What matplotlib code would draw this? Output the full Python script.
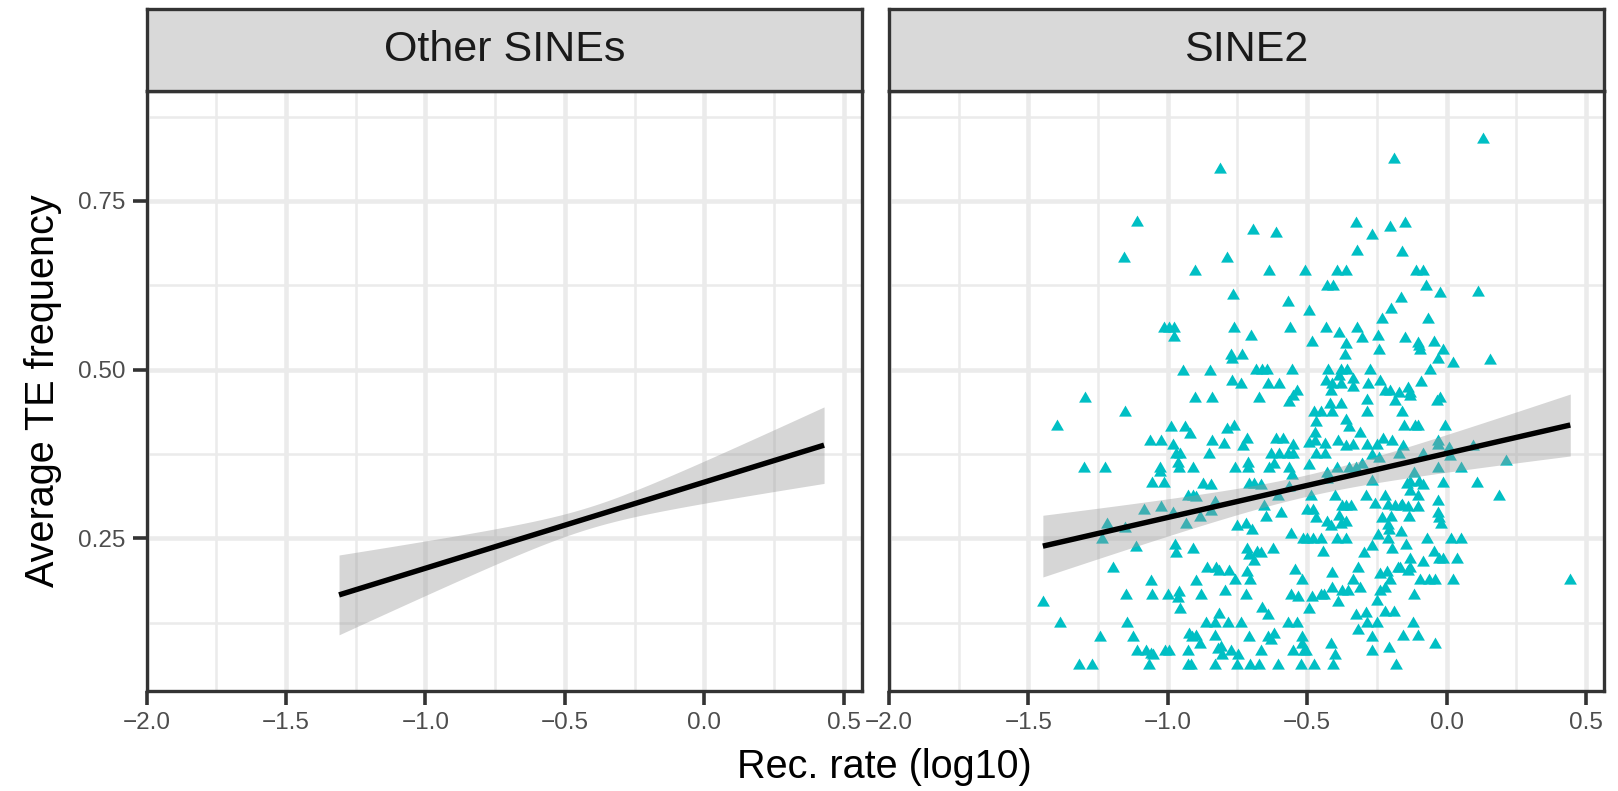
import matplotlib
matplotlib.use("Agg")
import numpy as np
import matplotlib.pyplot as plt
from matplotlib.ticker import FuncFormatter, MultipleLocator

plt.rcParams["font.family"] = ["Liberation Sans", "DejaVu Sans"]

# ---- data -----------------------------------------------------------------
facets = ["Other SINEs", "SINE2"]

# SINE2 points (rec. rate log10, average TE frequency)
sine2_points = [
    (-1.112, 0.720), (-1.157, 0.667), (-0.901, 0.647),
    (-0.812, 0.799), (-0.187, 0.814), (-0.695, 0.709), (-0.610, 0.704), (-0.323, 0.719),
    (-0.201, 0.713), (-0.148, 0.719), (-0.267, 0.701), (-0.787, 0.667), (-0.320, 0.678),
    (-0.160, 0.676), (-0.636, 0.647), (-0.507, 0.647), (-0.392, 0.647), (-0.360, 0.647),
    (-0.427, 0.626), (-0.407, 0.626), (-0.767, 0.612), (-0.567, 0.602), (-0.165, 0.608),
    (-0.199, 0.591), (-0.495, 0.588),
    (0.132, 0.844), (-0.110, 0.647), (-0.086, 0.647), (-0.073, 0.626), (-0.023, 0.615),
    (0.112, 0.616),
    (-1.013, 0.563), (-0.995, 0.563), (-0.979, 0.563), (-0.979, 0.550), (-0.945, 0.500),
    (-0.850, 0.500), (-1.296, 0.459), (-1.154, 0.438), (-1.398, 0.418), (-0.904, 0.459),
    (-0.842, 0.459), (-0.989, 0.417), (-0.939, 0.417), (-0.921, 0.406), (-1.064, 0.396),
    (-1.023, 0.396), (-0.981, 0.390), (-0.840, 0.396), (-0.969, 0.376), (-0.957, 0.376),
    (-0.853, 0.376), (-0.962, 0.363), (-1.299, 0.355), (-1.225, 0.355), (-1.029, 0.356),
    (-1.029, 0.350), (-0.960, 0.355), (-0.910, 0.355), (-1.055, 0.334), (-1.014, 0.334),
    (-0.874, 0.332), (-0.846, 0.330),
    (-0.233, 0.576), (-0.761, 0.563), (-0.562, 0.563), (-0.701, 0.551), (-0.431, 0.563),
    (-0.386, 0.556), (-0.320, 0.563), (-0.302, 0.548), (-0.246, 0.551), (-0.148, 0.548),
    (-0.483, 0.542), (-0.360, 0.539), (-0.243, 0.531), (-0.773, 0.523), (-0.769, 0.517),
    (-0.735, 0.523), (-0.365, 0.523), (-0.683, 0.501), (-0.663, 0.501), (-0.645, 0.501),
    (-0.556, 0.501), (-0.425, 0.501), (-0.377, 0.501), (-0.356, 0.501), (-0.386, 0.492),
    (-0.276, 0.501), (-0.769, 0.485), (-0.737, 0.480), (-0.641, 0.480), (-0.600, 0.480),
    (-0.431, 0.485), (-0.410, 0.480), (-0.378, 0.480), (-0.335, 0.488), (-0.335, 0.476),
    (-0.282, 0.480), (-0.240, 0.485), (-0.414, 0.470), (-0.538, 0.470), (-0.552, 0.462),
    (-0.564, 0.454), (-0.671, 0.459), (-0.222, 0.470), (-0.201, 0.470), (-0.169, 0.467),
    (-0.183, 0.455), (-0.285, 0.456), (-0.418, 0.451), (-0.380, 0.451), (-0.474, 0.439),
    (-0.450, 0.439), (-0.412, 0.439), (-0.285, 0.439), (-0.160, 0.439), (-0.469, 0.424),
    (-0.362, 0.427), (-0.348, 0.416), (-0.788, 0.414), (-0.761, 0.418), (-0.154, 0.418),
    (-0.471, 0.408), (-0.311, 0.408), (-0.800, 0.391), (-0.717, 0.398), (-0.729, 0.388),
    (-0.610, 0.398), (-0.588, 0.398), (-0.552, 0.390), (-0.493, 0.393), (-0.471, 0.396),
    (-0.436, 0.391), (-0.388, 0.396), (-0.362, 0.388), (-0.336, 0.389), (-0.285, 0.390),
    (-0.249, 0.390), (-0.228, 0.399), (-0.196, 0.396), (-0.156, 0.388), (-0.630, 0.376),
    (-0.600, 0.376), (-0.568, 0.376), (-0.552, 0.376), (-0.467, 0.376), (-0.436, 0.376),
    (-0.269, 0.375), (-0.243, 0.371), (-0.171, 0.376), (-0.757, 0.356), (-0.713, 0.363),
    (-0.713, 0.356), (-0.636, 0.356), (-0.618, 0.362), (-0.564, 0.356), (-0.555, 0.345),
    (-0.495, 0.360), (-0.430, 0.348), (-0.392, 0.356), (-0.350, 0.356), (-0.326, 0.356),
    (-0.302, 0.361), (-0.267, 0.336), (-0.428, 0.339), (-0.707, 0.332), (-0.689, 0.332),
    (-0.665, 0.330), (-0.564, 0.327), (-0.142, 0.332),
    (-0.067, 0.576), (-0.102, 0.541), (-0.098, 0.536), (-0.094, 0.531), (-0.046, 0.542),
    (-0.014, 0.531), (-0.029, 0.517), (0.025, 0.512), (0.156, 0.516), (-0.061, 0.501),
    (-0.093, 0.483), (-0.138, 0.474), (-0.130, 0.467), (-0.130, 0.462), (-0.035, 0.455),
    (-0.023, 0.460), (-0.112, 0.418), (-0.102, 0.418), (-0.005, 0.418), (-0.031, 0.396),
    (-0.031, 0.390), (0.010, 0.386), (0.096, 0.388), (-0.086, 0.376), (0.013, 0.374),
    (0.212, 0.366), (-0.029, 0.356), (0.052, 0.356), (-0.118, 0.348), (-0.130, 0.335),
    (-0.098, 0.335), (-0.086, 0.330), (-0.011, 0.334), (0.108, 0.334),
    (-0.132, 0.321), (-0.102, 0.314), (-0.032, 0.307), (0.189, 0.314), (-0.162, 0.300),
    (-0.138, 0.298), (-0.104, 0.298), (-0.031, 0.289), (-0.026, 0.282), (-0.020, 0.272),
    (-0.136, 0.283), (-0.162, 0.260), (-0.070, 0.251), (0.015, 0.251), (0.051, 0.251),
    (-0.145, 0.241), (-0.046, 0.231), (-0.026, 0.220), (-0.013, 0.220), (0.039, 0.220),
    (-0.130, 0.220), (-0.086, 0.216), (-0.168, 0.208), (-0.132, 0.208), (-0.138, 0.203),
    (-0.096, 0.189), (-0.062, 0.189), (-0.043, 0.189), (0.023, 0.189), (0.444, 0.189),
    (-0.118, 0.168), (-0.120, 0.126), (-0.155, 0.106), (-0.102, 0.106), (-0.040, 0.095),
    (-0.928, 0.314), (-0.910, 0.314), (-0.898, 0.312), (-0.832, 0.305), (-1.086, 0.293),
    (-1.025, 0.298), (-0.981, 0.289), (-0.886, 0.283), (-0.844, 0.292), (-1.217, 0.272),
    (-1.154, 0.267), (-0.933, 0.272), (-1.235, 0.250), (-1.114, 0.238), (-0.975, 0.241),
    (-0.969, 0.230), (-0.910, 0.235), (-1.195, 0.208), (-0.858, 0.208), (-0.826, 0.208),
    (-1.061, 0.188), (-0.898, 0.188), (-1.150, 0.167), (-1.055, 0.167), (-0.999, 0.167),
    (-0.960, 0.172), (-0.965, 0.163), (-0.882, 0.167), (-0.955, 0.146), (-1.448, 0.157),
    (-1.386, 0.126), (-1.145, 0.126), (-0.864, 0.126), (-0.832, 0.126), (-0.817, 0.139),
    (-1.243, 0.105), (-1.126, 0.105), (-0.924, 0.109), (-0.912, 0.105), (-0.898, 0.106),
    (-0.886, 0.094), (-0.829, 0.106), (-1.112, 0.084), (-1.079, 0.084), (-1.061, 0.080),
    (-1.052, 0.078), (-1.011, 0.084), (-0.995, 0.084), (-0.928, 0.084), (-0.818, 0.087),
    (-1.318, 0.063), (-1.273, 0.063), (-1.067, 0.063), (-0.928, 0.063), (-0.915, 0.063),
    (-0.832, 0.063),
    (-0.487, 0.314), (-0.400, 0.314), (-0.290, 0.314), (-0.219, 0.314), (-0.654, 0.299),
    (-0.606, 0.314), (-0.499, 0.293), (-0.479, 0.293), (-0.469, 0.282), (-0.374, 0.300),
    (-0.360, 0.300), (-0.344, 0.299), (-0.257, 0.302), (-0.210, 0.301), (-0.183, 0.299),
    (-0.160, 0.301), (-0.648, 0.283), (-0.592, 0.289), (-0.753, 0.269), (-0.721, 0.272),
    (-0.698, 0.263), (-0.428, 0.275), (-0.416, 0.269), (-0.386, 0.284), (-0.380, 0.273),
    (-0.360, 0.276), (-0.231, 0.282), (-0.198, 0.283), (-0.210, 0.271), (-0.207, 0.264),
    (-0.558, 0.258), (-0.514, 0.251), (-0.499, 0.251), (-0.479, 0.251), (-0.451, 0.251),
    (-0.392, 0.251), (-0.362, 0.251), (-0.245, 0.257), (-0.210, 0.251), (-0.717, 0.235),
    (-0.681, 0.231), (-0.665, 0.230), (-0.710, 0.226), (-0.689, 0.218), (-0.624, 0.235),
    (-0.442, 0.231), (-0.296, 0.230), (-0.267, 0.240), (-0.196, 0.235), (-0.817, 0.203),
    (-0.781, 0.203), (-0.717, 0.201), (-0.543, 0.204), (-0.412, 0.200), (-0.317, 0.207),
    (-0.237, 0.198), (-0.213, 0.201), (-0.174, 0.208), (-0.757, 0.189), (-0.705, 0.189),
    (-0.519, 0.189), (-0.336, 0.189), (-0.201, 0.189), (-0.796, 0.173), (-0.721, 0.168),
    (-0.558, 0.167), (-0.531, 0.164), (-0.483, 0.164), (-0.451, 0.167), (-0.439, 0.167),
    (-0.410, 0.178), (-0.374, 0.173), (-0.352, 0.173), (-0.312, 0.178), (-0.237, 0.173),
    (-0.221, 0.178), (-0.249, 0.158), (-0.388, 0.157), (-0.495, 0.146), (-0.662, 0.148),
    (-0.642, 0.138), (-0.324, 0.138), (-0.288, 0.141), (-0.221, 0.142), (-0.189, 0.142),
    (-0.784, 0.126), (-0.737, 0.126), (-0.567, 0.126), (-0.538, 0.126), (-0.285, 0.126),
    (-0.249, 0.126), (-0.317, 0.115), (-0.707, 0.105), (-0.642, 0.105), (-0.630, 0.101),
    (-0.618, 0.110), (-0.517, 0.105), (-0.269, 0.105), (-0.808, 0.090), (-0.805, 0.079),
    (-0.773, 0.084), (-0.749, 0.079), (-0.665, 0.084), (-0.550, 0.084), (-0.519, 0.094),
    (-0.511, 0.084), (-0.505, 0.084), (-0.416, 0.095), (-0.400, 0.079), (-0.269, 0.084),
    (-0.205, 0.089), (-0.753, 0.063), (-0.705, 0.063), (-0.674, 0.063), (-0.606, 0.063),
    (-0.523, 0.063), (-0.475, 0.063), (-0.407, 0.063), (-0.181, 0.063),
]

# Other SINEs: only the lm fit + 95% band is visible
other_x_range = [-1.31, 0.43]
other_fit_ends = [0.166, 0.388]
other_band_center = -0.42     # x where the band is narrowest
other_band_min = 0.016        # half-width at that x
other_band_spread = 0.064     # growth of half-width per unit of x

x_ticks = [-2.0, -1.5, -1.0, -0.5, 0.0, 0.5]
y_ticks = [0.25, 0.50, 0.75]
XLIM = (-2.0, 0.565)
YLIM = (0.024, 0.913)
T95 = 1.965

# ---- style ----------------------------------------------------------------
PT_COLOR = "#00BFC4"
BORDER = "#333333"
GRID = "#EBEBEB"
STRIP = "#D9D9D9"
TRI = [(-1.0, -0.8), (1.0, -0.8), (0.0, 0.93)]

W, H = 1618, 791
fig = plt.figure(figsize=(W / 100, H / 100), dpi=100)
fig.patch.set_facecolor("white")

pan_bottom = (H - 690.7) / H
pan_h = (690.7 - 91) / H
pan_w = 715 / W
lefts = [146.7 / W, 889 / W]
strip_h = 82.5 / H

minus = lambda s: s.replace("-", "\u2212")
fmt_x = FuncFormatter(lambda v, p: minus(f"{v:.1f}"))
fmt_y = FuncFormatter(lambda v, p: f"{v:.2f}")

axes = []
for i, name in enumerate(facets):
    ax = fig.add_axes([lefts[i], pan_bottom, pan_w, pan_h])
    ax.set_xlim(*XLIM)
    ax.set_ylim(*YLIM)
    ax.set_axisbelow(True)
    ax.set_xticks(x_ticks)
    ax.xaxis.set_minor_locator(MultipleLocator(0.25))
    ax.yaxis.set_minor_locator(MultipleLocator(0.125))
    ax.set_yticks(y_ticks)
    ax.xaxis.set_major_formatter(fmt_x)
    ax.yaxis.set_major_formatter(fmt_y)
    ax.grid(which="major", color=GRID, lw=3.3)
    ax.grid(which="minor", color=GRID, lw=1.8)
    ax.tick_params(which="minor", length=0)
    ax.tick_params(which="major", direction="out", length=10, width=2.6,
                   color=BORDER, labelsize=17.5, labelcolor="#4D4D4D", pad=5)
    if i > 0:
        ax.tick_params(axis="y", which="both", length=0, labelleft=False)
    for sp in ax.spines.values():
        sp.set_color(BORDER)
        sp.set_linewidth(2.4)
        sp.set_zorder(6)

    # strip
    sax = fig.add_axes([lefts[i], pan_bottom + pan_h, pan_w, strip_h])
    sax.set_facecolor(STRIP)
    sax.set_xticks([])
    sax.set_yticks([])
    for sp in sax.spines.values():
        sp.set_color(BORDER)
        sp.set_linewidth(2.4)
    sax.text(0.5, 0.5, name, ha="center", va="center", fontsize=31,
             color="#1A1A1A", transform=sax.transAxes)
    axes.append(ax)

# ---- Other SINEs panel: fit line and band ---------------------------------
ax = axes[0]
xo = np.linspace(other_x_range[0], other_x_range[1], 100)
slope_o = (other_fit_ends[1] - other_fit_ends[0]) / (other_x_range[1] - other_x_range[0])
yo = other_fit_ends[0] + slope_o * (xo - other_x_range[0])
hw = np.sqrt(other_band_min ** 2 + (other_band_spread * (xo - other_band_center)) ** 2)
ax.fill_between(xo, yo - hw, yo + hw, color="#999999", alpha=0.4, lw=0, zorder=3)
ax.plot(xo, yo, color="black", lw=3.9, zorder=4, solid_capstyle="butt")

# ---- SINE2 panel: points + lm fit -----------------------------------------
ax = axes[1]
px = np.array([p[0] for p in sine2_points])
py = np.array([p[1] for p in sine2_points])
ax.scatter(px, py, marker=TRI, s=85, color=PT_COLOR, linewidths=0, zorder=2)

n = len(px)
b1, b0 = np.polyfit(px, py, 1)
resid = py - (b0 + b1 * px)
s = np.sqrt(np.sum(resid ** 2) / (n - 2))
xbar = px.mean()
sxx = np.sum((px - xbar) ** 2)
xs = np.linspace(px.min(), px.max(), 100)
ys = b0 + b1 * xs
se = s * np.sqrt(1.0 / n + (xs - xbar) ** 2 / sxx)
ax.fill_between(xs, ys - T95 * se, ys + T95 * se, color="#999999", alpha=0.4,
                lw=0, zorder=3)
ax.plot(xs, ys, color="black", lw=3.9, zorder=4, solid_capstyle="butt")

# ---- axis titles ----------------------------------------------------------
fig.text(43 / W, pan_bottom + pan_h / 2, "Average TE frequency", rotation=90,
         ha="center", va="center", fontsize=28.5, color="black")
fig.text(884 / W, (H - 767) / H, "Rec. rate (log10)",
         ha="center", va="center", fontsize=28.5, color="black")

fig.savefig("out.png", dpi=100, facecolor="white")
